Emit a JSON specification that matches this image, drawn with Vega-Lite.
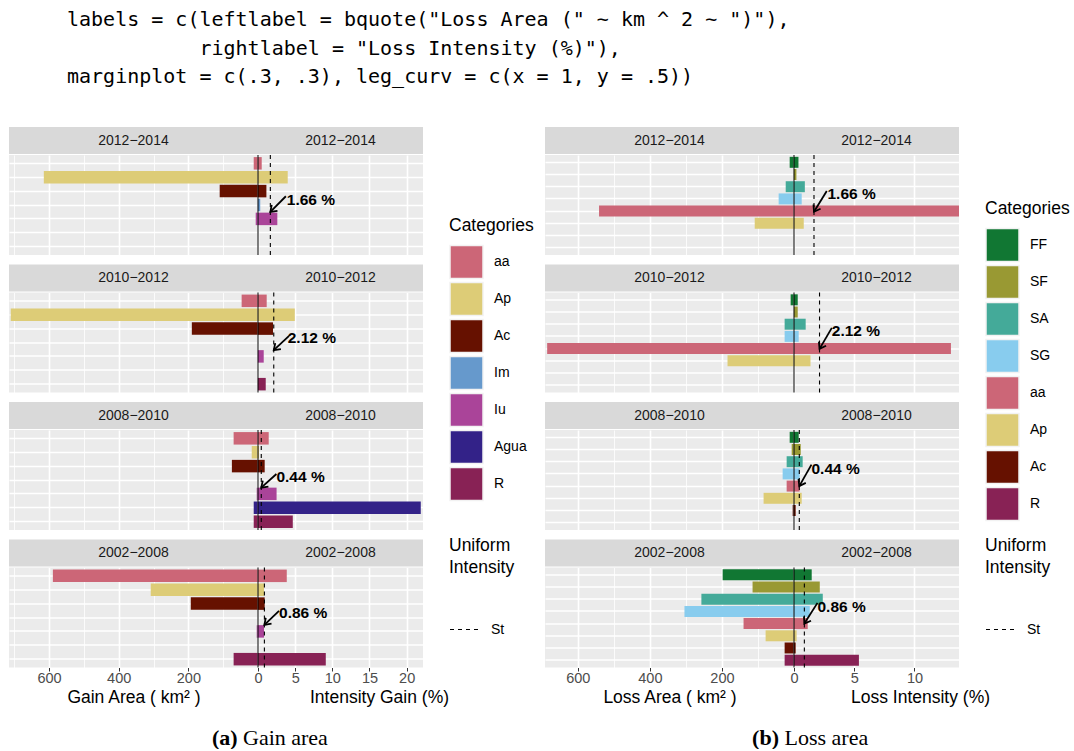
{
"$schema": "https://vega.github.io/schema/vega-lite/v6.json",
"padding": {"left": 9, "top": 10, "right": 0, "bottom": 0},
"title": {"text": ["labels = c(leftlabel = bquote(\"Loss Area (\" ~ km ^ 2 ~ \")\"),", "\u200b\u00a0\u00a0\u00a0\u00a0\u00a0\u00a0\u00a0\u00a0\u00a0\u00a0\u00a0rightlabel = \"Loss Intensity (%)\"),", "marginplot = c(.3, .3), leg_curv = c(x = 1, y = .5))"], "anchor": "start", "font": "DejaVu Sans Mono", "fontSize": 20, "fontWeight": "normal", "lineHeight": 28.5, "color": "black", "dx": 58, "offset": 40},
"spacing": 11,
"resolve": {"scale": {"color": "independent", "strokeDash": "independent"}, "legend": {"color": "independent", "strokeDash": "independent"}},
"datasets": {
"gain": [
{"period": "2012−2014", "category": "aa", "area": 12.3, "intensity": 0.5},
{"period": "2012−2014", "category": "Ap", "area": 615, "intensity": 4.0},
{"period": "2012−2014", "category": "Ac", "area": 110, "intensity": 1.13},
{"period": "2012−2014", "category": "Im", "area": 0.5, "intensity": 0.3},
{"period": "2012−2014", "category": "Iu", "area": 6.6, "intensity": 2.6},
{"period": "2010−2012", "category": "aa", "area": 47, "intensity": 1.17},
{"period": "2010−2012", "category": "Ap", "area": 710, "intensity": 4.95},
{"period": "2010−2012", "category": "Ac", "area": 190, "intensity": 2.02},
{"period": "2010−2012", "category": "Iu", "area": 0.5, "intensity": 0.77},
{"period": "2010−2012", "category": "R", "area": 0.5, "intensity": 1.04},
{"period": "2008−2010", "category": "aa", "area": 70, "intensity": 1.44},
{"period": "2008−2010", "category": "Ap", "area": 18, "intensity": 0.13},
{"period": "2008−2010", "category": "Ac", "area": 75, "intensity": 0.9},
{"period": "2008−2010", "category": "Iu", "area": 3.7, "intensity": 2.5},
{"period": "2008−2010", "category": "Agua", "area": 12.3, "intensity": 21.9},
{"period": "2008−2010", "category": "R", "area": 12.3, "intensity": 4.68},
{"period": "2002−2008", "category": "aa", "area": 589, "intensity": 3.87},
{"period": "2002−2008", "category": "Ap", "area": 308, "intensity": 0.81},
{"period": "2002−2008", "category": "Ac", "area": 193, "intensity": 0.9},
{"period": "2002−2008", "category": "Iu", "area": 3.7, "intensity": 0.81},
{"period": "2002−2008", "category": "R", "area": 70, "intensity": 9.12}
],
"loss": [
{"period": "2012−2014", "category": "FF", "area": 12, "intensity": 0.37},
{"period": "2012−2014", "category": "SF", "area": 0.5, "intensity": 0.2},
{"period": "2012−2014", "category": "SA", "area": 23, "intensity": 0.9},
{"period": "2012−2014", "category": "SG", "area": 42.6, "intensity": 0.64},
{"period": "2012−2014", "category": "aa", "area": 541, "intensity": 13.7},
{"period": "2012−2014", "category": "Ap", "area": 109, "intensity": 0.81},
{"period": "2010−2012", "category": "FF", "area": 9.3, "intensity": 0.31},
{"period": "2010−2012", "category": "SF", "area": 0.3, "intensity": 0.31},
{"period": "2010−2012", "category": "SA", "area": 26, "intensity": 0.97},
{"period": "2010−2012", "category": "SG", "area": 26, "intensity": 0.39},
{"period": "2010−2012", "category": "aa", "area": 685, "intensity": 13.03},
{"period": "2010−2012", "category": "Ap", "area": 184.5, "intensity": 1.37},
{"period": "2008−2010", "category": "FF", "area": 12, "intensity": 0.39},
{"period": "2008−2010", "category": "SF", "area": 6.4, "intensity": 0.56},
{"period": "2008−2010", "category": "SA", "area": 20.4, "intensity": 0.72},
{"period": "2008−2010", "category": "SG", "area": 31.5, "intensity": 0.47},
{"period": "2008−2010", "category": "aa", "area": 20.4, "intensity": 0.47},
{"period": "2008−2010", "category": "Ap", "area": 84.4, "intensity": 0.64},
{"period": "2008−2010", "category": "Ac", "area": 3.7, "intensity": 0.14},
{"period": "2002−2008", "category": "FF", "area": 198, "intensity": 1.47},
{"period": "2002−2008", "category": "SF", "area": 115, "intensity": 2.14},
{"period": "2002−2008", "category": "SA", "area": 257, "intensity": 2.39},
{"period": "2002−2008", "category": "SG", "area": 304, "intensity": 1.31},
{"period": "2002−2008", "category": "aa", "area": 140, "intensity": 1.14},
{"period": "2002−2008", "category": "Ap", "area": 78.8, "intensity": 0.22},
{"period": "2002−2008", "category": "Ac", "area": 26, "intensity": 0.14},
{"period": "2002−2008", "category": "R", "area": 26, "intensity": 5.39}
],
"gain_st": [
{"period": "2012−2014", "uniform": 1.66, "type": "St", "label": "1.66 %", "text_x": 3.87, "text_y": 3.66, "arrow_x": 3.75, "arrow_y": 3.37, "arrow_x2": 1.66, "arrow_y2": 4.5},
{"period": "2010−2012", "uniform": 2.12, "type": "St", "label": "2.12 %", "text_x": 4.0, "text_y": 3.68, "arrow_x": 4.18, "arrow_y": 3.52, "arrow_x2": 2.12, "arrow_y2": 4.55},
{"period": "2008−2010", "uniform": 0.44, "type": "St", "label": "0.44 %", "text_x": 2.48, "text_y": 3.76, "arrow_x": 2.48, "arrow_y": 3.57, "arrow_x2": 0.44, "arrow_y2": 4.55},
{"period": "2002−2008", "uniform": 0.86, "type": "St", "label": "0.86 %", "text_x": 2.83, "text_y": 3.68, "arrow_x": 2.83, "arrow_y": 3.52, "arrow_x2": 0.86, "arrow_y2": 4.53}
],
"loss_st": [
{"period": "2012−2014", "uniform": 1.66, "type": "St", "label": "1.66 %", "text_x": 2.78, "text_y": 3.6, "arrow_x": 2.72, "arrow_y": 3.35, "arrow_x2": 1.66, "arrow_y2": 5.05},
{"period": "2010−2012", "uniform": 2.12, "type": "St", "label": "2.12 %", "text_x": 3.14, "text_y": 3.57, "arrow_x": 3.14, "arrow_y": 3.3, "arrow_x2": 2.12, "arrow_y2": 5.02},
{"period": "2008−2010", "uniform": 0.44, "type": "St", "label": "0.44 %", "text_x": 1.45, "text_y": 3.57, "arrow_x": 1.45, "arrow_y": 3.24, "arrow_x2": 0.44, "arrow_y2": 5.0},
{"period": "2002−2008", "uniform": 0.86, "type": "St", "label": "0.86 %", "text_x": 1.95, "text_y": 3.62, "arrow_x": 1.95, "arrow_y": 3.3, "arrow_x2": 0.86, "arrow_y2": 5.0}
]
},
"hconcat": [
{"spacing": 4, "vconcat": [
 {"spacing": 8.5, "vconcat": [
  {"spacing": 0, "vconcat": [
   {"spacing": 0, "bounds": "flush", "hconcat": [
    {"width": 249, "height": 27, "view": {"fill": "#D9D9D9"}, "data": {"name": "gain_st"}, "transform": [{"filter": "datum.period === '2012−2014'"}], "mark": {"type": "text", "fontSize": 14, "color": "#1A1A1A"}, "encoding": {"text": {"field": "period"}}},
    {"width": 165, "height": 27, "view": {"fill": "#D9D9D9"}, "data": {"name": "gain_st"}, "transform": [{"filter": "datum.period === '2012−2014'"}], "mark": {"type": "text", "fontSize": 14, "color": "#1A1A1A"}, "encoding": {"text": {"field": "period"}}}
   ]},
   {"spacing": 0, "bounds": "flush", "hconcat": [
    {"width": 249, "height": 100, "data": {"name": "gain"}, "transform": [{"filter": "datum.period === '2012−2014'"}], "mark": {"type": "bar"},
     "encoding": {
      "x": {"field": "area", "type": "quantitative", "scale": {"domain": [0, 715], "reverse": true, "nice": false, "zero": false}, "axis": {"values": [0, 100, 200, 300, 400, 500, 600, 700], "labels": false, "ticks": false, "domain": false, "title": null, "gridWidth": {"condition": {"test": "datum.value % 200 === 0", "value": 1.6}, "value": 0.8}}},
      "y": {"field": "category", "type": "nominal", "scale": {"domain": ["aa", "Ap", "Ac", "Im", "Iu", "Agua", "R"], "paddingInner": 0.1, "paddingOuter": 0.15}, "axis": {"grid": true, "labels": false, "ticks": false, "domain": false, "title": null, "bandPosition": 0.5, "gridWidth": 1.6}},
      "color": {"field": "category", "type": "nominal", "scale": {"domain": ["aa", "Ap", "Ac", "Im", "Iu", "Agua", "R"], "range": ["#CC6677", "#DDCC77", "#661100", "#6699CC", "#AA4499", "#332288", "#882255"]}, "legend": {"title": "Categories", "orient": "none", "legendX": 440, "legendY": 90}}
     }},
    {"width": 165, "height": 100, "resolve": {"scale": {"y": "independent"}}, "layer": [
     {"data": {"name": "gain"}, "transform": [{"filter": "datum.period === '2012−2014'"}], "mark": {"type": "bar"},
      "encoding": {
       "x": {"field": "intensity", "type": "quantitative", "scale": {"domain": [0, 22.2], "nice": false, "zero": false}, "axis": {"values": [0, 2.5, 5, 7.5, 10, 12.5, 15, 17.5, 20], "labels": false, "ticks": false, "domain": false, "title": null, "gridWidth": {"condition": {"test": "datum.value % 5 === 0", "value": 1.6}, "value": 0.8}}},
       "y": {"field": "category", "type": "nominal", "scale": {"domain": ["aa", "Ap", "Ac", "Im", "Iu", "Agua", "R"], "paddingInner": 0.1, "paddingOuter": 0.15}, "axis": {"grid": true, "labels": false, "ticks": false, "domain": false, "title": null, "bandPosition": 0.5, "gridWidth": 1.6}},
       "color": {"field": "category", "type": "nominal", "scale": {"domain": ["aa", "Ap", "Ac", "Im", "Iu", "Agua", "R"], "range": ["#CC6677", "#DDCC77", "#661100", "#6699CC", "#AA4499", "#332288", "#882255"]}, "legend": {"title": "Categories", "orient": "none", "legendX": 440, "legendY": 90}}
      }},
     {"data": {"name": "gain_st"}, "transform": [{"filter": "datum.period === '2012−2014'"}], "mark": {"type": "rule", "color": "black", "strokeWidth": 1}, "encoding": {"x": {"datum": 0, "type": "quantitative", "scale": {"domain": [0, 22.2], "nice": false, "zero": false}}}},
     {"data": {"name": "gain_st"}, "transform": [{"filter": "datum.period === '2012−2014'"}], "mark": {"type": "rule", "color": "black", "strokeWidth": 1.1}, "encoding": {"x": {"field": "uniform", "type": "quantitative", "scale": {"domain": [0, 22.2], "nice": false, "zero": false}}, "strokeDash": {"field": "type", "type": "nominal", "scale": {"domain": ["St"], "range": [[4, 4]]}, "legend": {"title": ["Uniform", "Intensity"], "orient": "none", "legendX": 440, "legendY": 410, "symbolType": "stroke", "symbolSize": 900, "symbolStrokeColor": "black", "symbolStrokeWidth": 1.2, "titlePadding": 37}}}},
     {"data": {"name": "gain_st"}, "transform": [{"filter": "datum.period === '2012−2014'"}], "mark": {"type": "rule", "color": "black", "strokeWidth": 1.8}, "encoding": {"x": {"field": "arrow_x", "type": "quantitative", "scale": {"domain": [0, 22.2], "nice": false, "zero": false}}, "x2": {"field": "arrow_x2"}, "y": {"field": "arrow_y", "type": "quantitative", "scale": {"domain": [0.4, 7.6], "reverse": true, "nice": false, "zero": false}, "axis": null}, "y2": {"field": "arrow_y2"}}},
     {"data": {"name": "gain_st"}, "transform": [{"filter": "datum.period === '2012−2014'"}], "mark": {"type": "point", "shape": "M-1,-0.7L0,0L-1,0.7", "filled": false, "color": "black", "strokeWidth": 1.8, "size": 140, "angle": 136, "opacity": 1}, "encoding": {"x": {"field": "arrow_x2", "type": "quantitative", "scale": {"domain": [0, 22.2], "nice": false, "zero": false}}, "y": {"field": "arrow_y2", "type": "quantitative", "scale": {"domain": [0.4, 7.6], "reverse": true, "nice": false, "zero": false}, "axis": null}}},
     {"data": {"name": "gain_st"}, "transform": [{"filter": "datum.period === '2012−2014'"}], "mark": {"type": "text", "align": "left", "baseline": "middle", "fontWeight": "bold", "fontSize": 15.5, "color": "black"}, "encoding": {"x": {"field": "text_x", "type": "quantitative", "scale": {"domain": [0, 22.2], "nice": false, "zero": false}}, "y": {"field": "text_y", "type": "quantitative", "scale": {"domain": [0.4, 7.6], "reverse": true, "nice": false, "zero": false}, "axis": null}, "text": {"field": "label"}}}
    ]}
   ]}
  ]},
  {"spacing": 0, "vconcat": [
   {"spacing": 0, "bounds": "flush", "hconcat": [
    {"width": 249, "height": 27, "view": {"fill": "#D9D9D9"}, "data": {"name": "gain_st"}, "transform": [{"filter": "datum.period === '2010−2012'"}], "mark": {"type": "text", "fontSize": 14, "color": "#1A1A1A"}, "encoding": {"text": {"field": "period"}}},
    {"width": 165, "height": 27, "view": {"fill": "#D9D9D9"}, "data": {"name": "gain_st"}, "transform": [{"filter": "datum.period === '2010−2012'"}], "mark": {"type": "text", "fontSize": 14, "color": "#1A1A1A"}, "encoding": {"text": {"field": "period"}}}
   ]},
   {"spacing": 0, "bounds": "flush", "hconcat": [
    {"width": 249, "height": 100, "data": {"name": "gain"}, "transform": [{"filter": "datum.period === '2010−2012'"}], "mark": {"type": "bar"},
     "encoding": {
      "x": {"field": "area", "type": "quantitative", "scale": {"domain": [0, 715], "reverse": true, "nice": false, "zero": false}, "axis": {"values": [0, 100, 200, 300, 400, 500, 600, 700], "labels": false, "ticks": false, "domain": false, "title": null, "gridWidth": {"condition": {"test": "datum.value % 200 === 0", "value": 1.6}, "value": 0.8}}},
      "y": {"field": "category", "type": "nominal", "scale": {"domain": ["aa", "Ap", "Ac", "Im", "Iu", "Agua", "R"], "paddingInner": 0.1, "paddingOuter": 0.15}, "axis": {"grid": true, "labels": false, "ticks": false, "domain": false, "title": null, "bandPosition": 0.5, "gridWidth": 1.6}},
      "color": {"field": "category", "type": "nominal", "scale": {"domain": ["aa", "Ap", "Ac", "Im", "Iu", "Agua", "R"], "range": ["#CC6677", "#DDCC77", "#661100", "#6699CC", "#AA4499", "#332288", "#882255"]}, "legend": {"title": "Categories", "orient": "none", "legendX": 440, "legendY": 90}}
     }},
    {"width": 165, "height": 100, "resolve": {"scale": {"y": "independent"}}, "layer": [
     {"data": {"name": "gain"}, "transform": [{"filter": "datum.period === '2010−2012'"}], "mark": {"type": "bar"},
      "encoding": {
       "x": {"field": "intensity", "type": "quantitative", "scale": {"domain": [0, 22.2], "nice": false, "zero": false}, "axis": {"values": [0, 2.5, 5, 7.5, 10, 12.5, 15, 17.5, 20], "labels": false, "ticks": false, "domain": false, "title": null, "gridWidth": {"condition": {"test": "datum.value % 5 === 0", "value": 1.6}, "value": 0.8}}},
       "y": {"field": "category", "type": "nominal", "scale": {"domain": ["aa", "Ap", "Ac", "Im", "Iu", "Agua", "R"], "paddingInner": 0.1, "paddingOuter": 0.15}, "axis": {"grid": true, "labels": false, "ticks": false, "domain": false, "title": null, "bandPosition": 0.5, "gridWidth": 1.6}},
       "color": {"field": "category", "type": "nominal", "scale": {"domain": ["aa", "Ap", "Ac", "Im", "Iu", "Agua", "R"], "range": ["#CC6677", "#DDCC77", "#661100", "#6699CC", "#AA4499", "#332288", "#882255"]}, "legend": {"title": "Categories", "orient": "none", "legendX": 440, "legendY": 90}}
      }},
     {"data": {"name": "gain_st"}, "transform": [{"filter": "datum.period === '2010−2012'"}], "mark": {"type": "rule", "color": "black", "strokeWidth": 1}, "encoding": {"x": {"datum": 0, "type": "quantitative", "scale": {"domain": [0, 22.2], "nice": false, "zero": false}}}},
     {"data": {"name": "gain_st"}, "transform": [{"filter": "datum.period === '2010−2012'"}], "mark": {"type": "rule", "color": "black", "strokeWidth": 1.1}, "encoding": {"x": {"field": "uniform", "type": "quantitative", "scale": {"domain": [0, 22.2], "nice": false, "zero": false}}, "strokeDash": {"field": "type", "type": "nominal", "scale": {"domain": ["St"], "range": [[4, 4]]}, "legend": {"title": ["Uniform", "Intensity"], "orient": "none", "legendX": 440, "legendY": 410, "symbolType": "stroke", "symbolSize": 900, "symbolStrokeColor": "black", "symbolStrokeWidth": 1.2, "titlePadding": 37}}}},
     {"data": {"name": "gain_st"}, "transform": [{"filter": "datum.period === '2010−2012'"}], "mark": {"type": "rule", "color": "black", "strokeWidth": 1.8}, "encoding": {"x": {"field": "arrow_x", "type": "quantitative", "scale": {"domain": [0, 22.2], "nice": false, "zero": false}}, "x2": {"field": "arrow_x2"}, "y": {"field": "arrow_y", "type": "quantitative", "scale": {"domain": [0.4, 7.6], "reverse": true, "nice": false, "zero": false}, "axis": null}, "y2": {"field": "arrow_y2"}}},
     {"data": {"name": "gain_st"}, "transform": [{"filter": "datum.period === '2010−2012'"}], "mark": {"type": "point", "shape": "M-1,-0.7L0,0L-1,0.7", "filled": false, "color": "black", "strokeWidth": 1.8, "size": 140, "angle": 137, "opacity": 1}, "encoding": {"x": {"field": "arrow_x2", "type": "quantitative", "scale": {"domain": [0, 22.2], "nice": false, "zero": false}}, "y": {"field": "arrow_y2", "type": "quantitative", "scale": {"domain": [0.4, 7.6], "reverse": true, "nice": false, "zero": false}, "axis": null}}},
     {"data": {"name": "gain_st"}, "transform": [{"filter": "datum.period === '2010−2012'"}], "mark": {"type": "text", "align": "left", "baseline": "middle", "fontWeight": "bold", "fontSize": 15.5, "color": "black"}, "encoding": {"x": {"field": "text_x", "type": "quantitative", "scale": {"domain": [0, 22.2], "nice": false, "zero": false}}, "y": {"field": "text_y", "type": "quantitative", "scale": {"domain": [0.4, 7.6], "reverse": true, "nice": false, "zero": false}, "axis": null}, "text": {"field": "label"}}}
    ]}
   ]}
  ]},
  {"spacing": 0, "vconcat": [
   {"spacing": 0, "bounds": "flush", "hconcat": [
    {"width": 249, "height": 27, "view": {"fill": "#D9D9D9"}, "data": {"name": "gain_st"}, "transform": [{"filter": "datum.period === '2008−2010'"}], "mark": {"type": "text", "fontSize": 14, "color": "#1A1A1A"}, "encoding": {"text": {"field": "period"}}},
    {"width": 165, "height": 27, "view": {"fill": "#D9D9D9"}, "data": {"name": "gain_st"}, "transform": [{"filter": "datum.period === '2008−2010'"}], "mark": {"type": "text", "fontSize": 14, "color": "#1A1A1A"}, "encoding": {"text": {"field": "period"}}}
   ]},
   {"spacing": 0, "bounds": "flush", "hconcat": [
    {"width": 249, "height": 100, "data": {"name": "gain"}, "transform": [{"filter": "datum.period === '2008−2010'"}], "mark": {"type": "bar"},
     "encoding": {
      "x": {"field": "area", "type": "quantitative", "scale": {"domain": [0, 715], "reverse": true, "nice": false, "zero": false}, "axis": {"values": [0, 100, 200, 300, 400, 500, 600, 700], "labels": false, "ticks": false, "domain": false, "title": null, "gridWidth": {"condition": {"test": "datum.value % 200 === 0", "value": 1.6}, "value": 0.8}}},
      "y": {"field": "category", "type": "nominal", "scale": {"domain": ["aa", "Ap", "Ac", "Im", "Iu", "Agua", "R"], "paddingInner": 0.1, "paddingOuter": 0.15}, "axis": {"grid": true, "labels": false, "ticks": false, "domain": false, "title": null, "bandPosition": 0.5, "gridWidth": 1.6}},
      "color": {"field": "category", "type": "nominal", "scale": {"domain": ["aa", "Ap", "Ac", "Im", "Iu", "Agua", "R"], "range": ["#CC6677", "#DDCC77", "#661100", "#6699CC", "#AA4499", "#332288", "#882255"]}, "legend": {"title": "Categories", "orient": "none", "legendX": 440, "legendY": 90}}
     }},
    {"width": 165, "height": 100, "resolve": {"scale": {"y": "independent"}}, "layer": [
     {"data": {"name": "gain"}, "transform": [{"filter": "datum.period === '2008−2010'"}], "mark": {"type": "bar"},
      "encoding": {
       "x": {"field": "intensity", "type": "quantitative", "scale": {"domain": [0, 22.2], "nice": false, "zero": false}, "axis": {"values": [0, 2.5, 5, 7.5, 10, 12.5, 15, 17.5, 20], "labels": false, "ticks": false, "domain": false, "title": null, "gridWidth": {"condition": {"test": "datum.value % 5 === 0", "value": 1.6}, "value": 0.8}}},
       "y": {"field": "category", "type": "nominal", "scale": {"domain": ["aa", "Ap", "Ac", "Im", "Iu", "Agua", "R"], "paddingInner": 0.1, "paddingOuter": 0.15}, "axis": {"grid": true, "labels": false, "ticks": false, "domain": false, "title": null, "bandPosition": 0.5, "gridWidth": 1.6}},
       "color": {"field": "category", "type": "nominal", "scale": {"domain": ["aa", "Ap", "Ac", "Im", "Iu", "Agua", "R"], "range": ["#CC6677", "#DDCC77", "#661100", "#6699CC", "#AA4499", "#332288", "#882255"]}, "legend": {"title": "Categories", "orient": "none", "legendX": 440, "legendY": 90}}
      }},
     {"data": {"name": "gain_st"}, "transform": [{"filter": "datum.period === '2008−2010'"}], "mark": {"type": "rule", "color": "black", "strokeWidth": 1}, "encoding": {"x": {"datum": 0, "type": "quantitative", "scale": {"domain": [0, 22.2], "nice": false, "zero": false}}}},
     {"data": {"name": "gain_st"}, "transform": [{"filter": "datum.period === '2008−2010'"}], "mark": {"type": "rule", "color": "black", "strokeWidth": 1.1}, "encoding": {"x": {"field": "uniform", "type": "quantitative", "scale": {"domain": [0, 22.2], "nice": false, "zero": false}}, "strokeDash": {"field": "type", "type": "nominal", "scale": {"domain": ["St"], "range": [[4, 4]]}, "legend": {"title": ["Uniform", "Intensity"], "orient": "none", "legendX": 440, "legendY": 410, "symbolType": "stroke", "symbolSize": 900, "symbolStrokeColor": "black", "symbolStrokeWidth": 1.2, "titlePadding": 37}}}},
     {"data": {"name": "gain_st"}, "transform": [{"filter": "datum.period === '2008−2010'"}], "mark": {"type": "rule", "color": "black", "strokeWidth": 1.8}, "encoding": {"x": {"field": "arrow_x", "type": "quantitative", "scale": {"domain": [0, 22.2], "nice": false, "zero": false}}, "x2": {"field": "arrow_x2"}, "y": {"field": "arrow_y", "type": "quantitative", "scale": {"domain": [0.4, 7.6], "reverse": true, "nice": false, "zero": false}, "axis": null}, "y2": {"field": "arrow_y2"}}},
     {"data": {"name": "gain_st"}, "transform": [{"filter": "datum.period === '2008−2010'"}], "mark": {"type": "point", "shape": "M-1,-0.7L0,0L-1,0.7", "filled": false, "color": "black", "strokeWidth": 1.8, "size": 140, "angle": 137, "opacity": 1}, "encoding": {"x": {"field": "arrow_x2", "type": "quantitative", "scale": {"domain": [0, 22.2], "nice": false, "zero": false}}, "y": {"field": "arrow_y2", "type": "quantitative", "scale": {"domain": [0.4, 7.6], "reverse": true, "nice": false, "zero": false}, "axis": null}}},
     {"data": {"name": "gain_st"}, "transform": [{"filter": "datum.period === '2008−2010'"}], "mark": {"type": "text", "align": "left", "baseline": "middle", "fontWeight": "bold", "fontSize": 15.5, "color": "black"}, "encoding": {"x": {"field": "text_x", "type": "quantitative", "scale": {"domain": [0, 22.2], "nice": false, "zero": false}}, "y": {"field": "text_y", "type": "quantitative", "scale": {"domain": [0.4, 7.6], "reverse": true, "nice": false, "zero": false}, "axis": null}, "text": {"field": "label"}}}
    ]}
   ]}
  ]},
  {"spacing": 0, "vconcat": [
   {"spacing": 0, "bounds": "flush", "hconcat": [
    {"width": 249, "height": 27, "view": {"fill": "#D9D9D9"}, "data": {"name": "gain_st"}, "transform": [{"filter": "datum.period === '2002−2008'"}], "mark": {"type": "text", "fontSize": 14, "color": "#1A1A1A"}, "encoding": {"text": {"field": "period"}}},
    {"width": 165, "height": 27, "view": {"fill": "#D9D9D9"}, "data": {"name": "gain_st"}, "transform": [{"filter": "datum.period === '2002−2008'"}], "mark": {"type": "text", "fontSize": 14, "color": "#1A1A1A"}, "encoding": {"text": {"field": "period"}}}
   ]},
   {"spacing": 0, "bounds": "flush", "hconcat": [
    {"width": 249, "height": 100, "data": {"name": "gain"}, "transform": [{"filter": "datum.period === '2002−2008'"}], "mark": {"type": "bar"},
     "encoding": {
      "x": {"field": "area", "type": "quantitative", "scale": {"domain": [0, 715], "reverse": true, "nice": false, "zero": false}, "axis": {"values": [0, 100, 200, 300, 400, 500, 600, 700], "format": "d", "labelExpr": "datum.value % 200 === 0 ? datum.label : ''", "labelFlush": false, "labelOverlap": false, "labelPadding": 0, "tickColor": {"condition": {"test": "datum.value % 200 === 0", "value": "#333333"}, "value": "transparent"}, "domain": false, "title": "Gain Area ( km² )", "gridWidth": {"condition": {"test": "datum.value % 200 === 0", "value": 1.6}, "value": 0.8}}},
      "y": {"field": "category", "type": "nominal", "scale": {"domain": ["aa", "Ap", "Ac", "Im", "Iu", "Agua", "R"], "paddingInner": 0.1, "paddingOuter": 0.15}, "axis": {"grid": true, "labels": false, "ticks": false, "domain": false, "title": null, "bandPosition": 0.5, "gridWidth": 1.6}},
      "color": {"field": "category", "type": "nominal", "scale": {"domain": ["aa", "Ap", "Ac", "Im", "Iu", "Agua", "R"], "range": ["#CC6677", "#DDCC77", "#661100", "#6699CC", "#AA4499", "#332288", "#882255"]}, "legend": {"title": "Categories", "orient": "none", "legendX": 440, "legendY": 90}}
     }},
    {"width": 165, "height": 100, "resolve": {"scale": {"y": "independent"}}, "layer": [
     {"data": {"name": "gain"}, "transform": [{"filter": "datum.period === '2002−2008'"}], "mark": {"type": "bar"},
      "encoding": {
       "x": {"field": "intensity", "type": "quantitative", "scale": {"domain": [0, 22.2], "nice": false, "zero": false}, "axis": {"values": [0, 2.5, 5, 7.5, 10, 12.5, 15, 17.5, 20], "format": "d", "labelExpr": "datum.value % 5 === 0 && datum.value > 0 ? datum.label : ''", "labelFlush": false, "labelOverlap": false, "labelPadding": 0, "tickColor": {"condition": {"test": "datum.value % 5 === 0 && datum.value > 0", "value": "#333333"}, "value": "transparent"}, "domain": false, "title": "Intensity Gain (%)", "titleX": 121, "gridWidth": {"condition": {"test": "datum.value % 5 === 0", "value": 1.6}, "value": 0.8}}},
       "y": {"field": "category", "type": "nominal", "scale": {"domain": ["aa", "Ap", "Ac", "Im", "Iu", "Agua", "R"], "paddingInner": 0.1, "paddingOuter": 0.15}, "axis": {"grid": true, "labels": false, "ticks": false, "domain": false, "title": null, "bandPosition": 0.5, "gridWidth": 1.6}},
       "color": {"field": "category", "type": "nominal", "scale": {"domain": ["aa", "Ap", "Ac", "Im", "Iu", "Agua", "R"], "range": ["#CC6677", "#DDCC77", "#661100", "#6699CC", "#AA4499", "#332288", "#882255"]}, "legend": {"title": "Categories", "orient": "none", "legendX": 440, "legendY": 90}}
      }},
     {"data": {"name": "gain_st"}, "transform": [{"filter": "datum.period === '2002−2008'"}], "mark": {"type": "rule", "color": "black", "strokeWidth": 1}, "encoding": {"x": {"datum": 0, "type": "quantitative", "scale": {"domain": [0, 22.2], "nice": false, "zero": false}}}},
     {"data": {"name": "gain_st"}, "transform": [{"filter": "datum.period === '2002−2008'"}], "mark": {"type": "rule", "color": "black", "strokeWidth": 1.1}, "encoding": {"x": {"field": "uniform", "type": "quantitative", "scale": {"domain": [0, 22.2], "nice": false, "zero": false}}, "strokeDash": {"field": "type", "type": "nominal", "scale": {"domain": ["St"], "range": [[4, 4]]}, "legend": {"title": ["Uniform", "Intensity"], "orient": "none", "legendX": 440, "legendY": 410, "symbolType": "stroke", "symbolSize": 900, "symbolStrokeColor": "black", "symbolStrokeWidth": 1.2, "titlePadding": 37}}}},
     {"data": {"name": "gain_st"}, "transform": [{"filter": "datum.period === '2002−2008'"}], "mark": {"type": "rule", "color": "black", "strokeWidth": 1.8}, "encoding": {"x": {"field": "arrow_x", "type": "quantitative", "scale": {"domain": [0, 22.2], "nice": false, "zero": false}}, "x2": {"field": "arrow_x2"}, "y": {"field": "arrow_y", "type": "quantitative", "scale": {"domain": [0.4, 7.6], "reverse": true, "nice": false, "zero": false}, "axis": null}, "y2": {"field": "arrow_y2"}}},
     {"data": {"name": "gain_st"}, "transform": [{"filter": "datum.period === '2002−2008'"}], "mark": {"type": "point", "shape": "M-1,-0.7L0,0L-1,0.7", "filled": false, "color": "black", "strokeWidth": 1.8, "size": 140, "angle": 136, "opacity": 1}, "encoding": {"x": {"field": "arrow_x2", "type": "quantitative", "scale": {"domain": [0, 22.2], "nice": false, "zero": false}}, "y": {"field": "arrow_y2", "type": "quantitative", "scale": {"domain": [0.4, 7.6], "reverse": true, "nice": false, "zero": false}, "axis": null}}},
     {"data": {"name": "gain_st"}, "transform": [{"filter": "datum.period === '2002−2008'"}], "mark": {"type": "text", "align": "left", "baseline": "middle", "fontWeight": "bold", "fontSize": 15.5, "color": "black"}, "encoding": {"x": {"field": "text_x", "type": "quantitative", "scale": {"domain": [0, 22.2], "nice": false, "zero": false}}, "y": {"field": "text_y", "type": "quantitative", "scale": {"domain": [0.4, 7.6], "reverse": true, "nice": false, "zero": false}, "axis": null}, "text": {"field": "label"}}}
    ]}
   ]}
  ]}
 ]},
 {"width": 414, "height": 36, "view": {"fill": "white"}, "data": {"values": [{"letter": "(a)", "caption": "Gain area"}]}, "layer": [
  {"mark": {"type": "text", "align": "right", "dx": 21.7, "dy": 10, "font": "Liberation Serif", "fontSize": 22, "fontWeight": "bold", "color": "black"}, "encoding": {"text": {"field": "letter"}}},
  {"mark": {"type": "text", "align": "left", "dx": 27, "dy": 10, "font": "Liberation Serif", "fontSize": 22, "color": "black"}, "encoding": {"text": {"field": "caption"}}}
 ]}
]},
{"spacing": 4, "vconcat": [
 {"spacing": 8.5, "vconcat": [
  {"spacing": 0, "vconcat": [
   {"spacing": 0, "bounds": "flush", "hconcat": [
    {"width": 249, "height": 27, "view": {"fill": "#D9D9D9"}, "data": {"name": "loss_st"}, "transform": [{"filter": "datum.period === '2012−2014'"}], "mark": {"type": "text", "fontSize": 14, "color": "#1A1A1A"}, "encoding": {"text": {"field": "period"}}},
    {"width": 165, "height": 27, "view": {"fill": "#D9D9D9"}, "data": {"name": "loss_st"}, "transform": [{"filter": "datum.period === '2012−2014'"}], "mark": {"type": "text", "fontSize": 14, "color": "#1A1A1A"}, "encoding": {"text": {"field": "period"}}}
   ]},
   {"spacing": 0, "bounds": "flush", "hconcat": [
    {"width": 249, "height": 100, "data": {"name": "loss"}, "transform": [{"filter": "datum.period === '2012−2014'"}], "mark": {"type": "bar"},
     "encoding": {
      "x": {"field": "area", "type": "quantitative", "scale": {"domain": [0, 691], "reverse": true, "nice": false, "zero": false}, "axis": {"values": [0, 100, 200, 300, 400, 500, 600], "labels": false, "ticks": false, "domain": false, "title": null, "gridWidth": {"condition": {"test": "datum.value % 200 === 0", "value": 1.6}, "value": 0.8}}},
      "y": {"field": "category", "type": "nominal", "scale": {"domain": ["FF", "SF", "SA", "SG", "aa", "Ap", "Ac", "R"], "paddingInner": 0.1, "paddingOuter": 0.15}, "axis": {"grid": true, "labels": false, "ticks": false, "domain": false, "title": null, "bandPosition": 0.5, "gridWidth": 1.6}},
      "color": {"field": "category", "type": "nominal", "scale": {"domain": ["FF", "SF", "SA", "SG", "aa", "Ap", "Ac", "R"], "range": ["#117733", "#999933", "#44AA99", "#88CCEE", "#CC6677", "#DDCC77", "#661100", "#882255"]}, "legend": {"title": "Categories", "orient": "none", "legendX": 440, "legendY": 73}}
     }},
    {"width": 165, "height": 100, "resolve": {"scale": {"y": "independent"}}, "layer": [
     {"data": {"name": "loss"}, "transform": [{"filter": "datum.period === '2012−2014'"}], "mark": {"type": "bar"},
      "encoding": {
       "x": {"field": "intensity", "type": "quantitative", "scale": {"domain": [0, 13.7], "nice": false, "zero": false}, "axis": {"values": [0, 2.5, 5, 7.5, 10, 12.5], "labels": false, "ticks": false, "domain": false, "title": null, "gridWidth": {"condition": {"test": "datum.value % 5 === 0", "value": 1.6}, "value": 0.8}}},
       "y": {"field": "category", "type": "nominal", "scale": {"domain": ["FF", "SF", "SA", "SG", "aa", "Ap", "Ac", "R"], "paddingInner": 0.1, "paddingOuter": 0.15}, "axis": {"grid": true, "labels": false, "ticks": false, "domain": false, "title": null, "bandPosition": 0.5, "gridWidth": 1.6}},
       "color": {"field": "category", "type": "nominal", "scale": {"domain": ["FF", "SF", "SA", "SG", "aa", "Ap", "Ac", "R"], "range": ["#117733", "#999933", "#44AA99", "#88CCEE", "#CC6677", "#DDCC77", "#661100", "#882255"]}, "legend": {"title": "Categories", "orient": "none", "legendX": 440, "legendY": 73}}
      }},
     {"data": {"name": "loss_st"}, "transform": [{"filter": "datum.period === '2012−2014'"}], "mark": {"type": "rule", "color": "black", "strokeWidth": 1}, "encoding": {"x": {"datum": 0, "type": "quantitative", "scale": {"domain": [0, 13.7], "nice": false, "zero": false}}}},
     {"data": {"name": "loss_st"}, "transform": [{"filter": "datum.period === '2012−2014'"}], "mark": {"type": "rule", "color": "black", "strokeWidth": 1.1}, "encoding": {"x": {"field": "uniform", "type": "quantitative", "scale": {"domain": [0, 13.7], "nice": false, "zero": false}}, "strokeDash": {"field": "type", "type": "nominal", "scale": {"domain": ["St"], "range": [[4, 4]]}, "legend": {"title": ["Uniform", "Intensity"], "orient": "none", "legendX": 440, "legendY": 410, "symbolType": "stroke", "symbolSize": 900, "symbolStrokeColor": "black", "symbolStrokeWidth": 1.2, "titlePadding": 37}}}},
     {"data": {"name": "loss_st"}, "transform": [{"filter": "datum.period === '2012−2014'"}], "mark": {"type": "rule", "color": "black", "strokeWidth": 1.8}, "encoding": {"x": {"field": "arrow_x", "type": "quantitative", "scale": {"domain": [0, 13.7], "nice": false, "zero": false}}, "x2": {"field": "arrow_x2"}, "y": {"field": "arrow_y", "type": "quantitative", "scale": {"domain": [0.4, 8.6], "reverse": true, "nice": false, "zero": false}, "axis": null}, "y2": {"field": "arrow_y2"}}},
     {"data": {"name": "loss_st"}, "transform": [{"filter": "datum.period === '2012−2014'"}], "mark": {"type": "point", "shape": "M-1,-0.7L0,0L-1,0.7", "filled": false, "color": "black", "strokeWidth": 1.8, "size": 140, "angle": 121, "opacity": 1}, "encoding": {"x": {"field": "arrow_x2", "type": "quantitative", "scale": {"domain": [0, 13.7], "nice": false, "zero": false}}, "y": {"field": "arrow_y2", "type": "quantitative", "scale": {"domain": [0.4, 8.6], "reverse": true, "nice": false, "zero": false}, "axis": null}}},
     {"data": {"name": "loss_st"}, "transform": [{"filter": "datum.period === '2012−2014'"}], "mark": {"type": "text", "align": "left", "baseline": "middle", "fontWeight": "bold", "fontSize": 15.5, "color": "black"}, "encoding": {"x": {"field": "text_x", "type": "quantitative", "scale": {"domain": [0, 13.7], "nice": false, "zero": false}}, "y": {"field": "text_y", "type": "quantitative", "scale": {"domain": [0.4, 8.6], "reverse": true, "nice": false, "zero": false}, "axis": null}, "text": {"field": "label"}}}
    ]}
   ]}
  ]},
  {"spacing": 0, "vconcat": [
   {"spacing": 0, "bounds": "flush", "hconcat": [
    {"width": 249, "height": 27, "view": {"fill": "#D9D9D9"}, "data": {"name": "loss_st"}, "transform": [{"filter": "datum.period === '2010−2012'"}], "mark": {"type": "text", "fontSize": 14, "color": "#1A1A1A"}, "encoding": {"text": {"field": "period"}}},
    {"width": 165, "height": 27, "view": {"fill": "#D9D9D9"}, "data": {"name": "loss_st"}, "transform": [{"filter": "datum.period === '2010−2012'"}], "mark": {"type": "text", "fontSize": 14, "color": "#1A1A1A"}, "encoding": {"text": {"field": "period"}}}
   ]},
   {"spacing": 0, "bounds": "flush", "hconcat": [
    {"width": 249, "height": 100, "data": {"name": "loss"}, "transform": [{"filter": "datum.period === '2010−2012'"}], "mark": {"type": "bar"},
     "encoding": {
      "x": {"field": "area", "type": "quantitative", "scale": {"domain": [0, 691], "reverse": true, "nice": false, "zero": false}, "axis": {"values": [0, 100, 200, 300, 400, 500, 600], "labels": false, "ticks": false, "domain": false, "title": null, "gridWidth": {"condition": {"test": "datum.value % 200 === 0", "value": 1.6}, "value": 0.8}}},
      "y": {"field": "category", "type": "nominal", "scale": {"domain": ["FF", "SF", "SA", "SG", "aa", "Ap", "Ac", "R"], "paddingInner": 0.1, "paddingOuter": 0.15}, "axis": {"grid": true, "labels": false, "ticks": false, "domain": false, "title": null, "bandPosition": 0.5, "gridWidth": 1.6}},
      "color": {"field": "category", "type": "nominal", "scale": {"domain": ["FF", "SF", "SA", "SG", "aa", "Ap", "Ac", "R"], "range": ["#117733", "#999933", "#44AA99", "#88CCEE", "#CC6677", "#DDCC77", "#661100", "#882255"]}, "legend": {"title": "Categories", "orient": "none", "legendX": 440, "legendY": 73}}
     }},
    {"width": 165, "height": 100, "resolve": {"scale": {"y": "independent"}}, "layer": [
     {"data": {"name": "loss"}, "transform": [{"filter": "datum.period === '2010−2012'"}], "mark": {"type": "bar"},
      "encoding": {
       "x": {"field": "intensity", "type": "quantitative", "scale": {"domain": [0, 13.7], "nice": false, "zero": false}, "axis": {"values": [0, 2.5, 5, 7.5, 10, 12.5], "labels": false, "ticks": false, "domain": false, "title": null, "gridWidth": {"condition": {"test": "datum.value % 5 === 0", "value": 1.6}, "value": 0.8}}},
       "y": {"field": "category", "type": "nominal", "scale": {"domain": ["FF", "SF", "SA", "SG", "aa", "Ap", "Ac", "R"], "paddingInner": 0.1, "paddingOuter": 0.15}, "axis": {"grid": true, "labels": false, "ticks": false, "domain": false, "title": null, "bandPosition": 0.5, "gridWidth": 1.6}},
       "color": {"field": "category", "type": "nominal", "scale": {"domain": ["FF", "SF", "SA", "SG", "aa", "Ap", "Ac", "R"], "range": ["#117733", "#999933", "#44AA99", "#88CCEE", "#CC6677", "#DDCC77", "#661100", "#882255"]}, "legend": {"title": "Categories", "orient": "none", "legendX": 440, "legendY": 73}}
      }},
     {"data": {"name": "loss_st"}, "transform": [{"filter": "datum.period === '2010−2012'"}], "mark": {"type": "rule", "color": "black", "strokeWidth": 1}, "encoding": {"x": {"datum": 0, "type": "quantitative", "scale": {"domain": [0, 13.7], "nice": false, "zero": false}}}},
     {"data": {"name": "loss_st"}, "transform": [{"filter": "datum.period === '2010−2012'"}], "mark": {"type": "rule", "color": "black", "strokeWidth": 1.1}, "encoding": {"x": {"field": "uniform", "type": "quantitative", "scale": {"domain": [0, 13.7], "nice": false, "zero": false}}, "strokeDash": {"field": "type", "type": "nominal", "scale": {"domain": ["St"], "range": [[4, 4]]}, "legend": {"title": ["Uniform", "Intensity"], "orient": "none", "legendX": 440, "legendY": 410, "symbolType": "stroke", "symbolSize": 900, "symbolStrokeColor": "black", "symbolStrokeWidth": 1.2, "titlePadding": 37}}}},
     {"data": {"name": "loss_st"}, "transform": [{"filter": "datum.period === '2010−2012'"}], "mark": {"type": "rule", "color": "black", "strokeWidth": 1.8}, "encoding": {"x": {"field": "arrow_x", "type": "quantitative", "scale": {"domain": [0, 13.7], "nice": false, "zero": false}}, "x2": {"field": "arrow_x2"}, "y": {"field": "arrow_y", "type": "quantitative", "scale": {"domain": [0.4, 8.6], "reverse": true, "nice": false, "zero": false}, "axis": null}, "y2": {"field": "arrow_y2"}}},
     {"data": {"name": "loss_st"}, "transform": [{"filter": "datum.period === '2010−2012'"}], "mark": {"type": "point", "shape": "M-1,-0.7L0,0L-1,0.7", "filled": false, "color": "black", "strokeWidth": 1.8, "size": 140, "angle": 120, "opacity": 1}, "encoding": {"x": {"field": "arrow_x2", "type": "quantitative", "scale": {"domain": [0, 13.7], "nice": false, "zero": false}}, "y": {"field": "arrow_y2", "type": "quantitative", "scale": {"domain": [0.4, 8.6], "reverse": true, "nice": false, "zero": false}, "axis": null}}},
     {"data": {"name": "loss_st"}, "transform": [{"filter": "datum.period === '2010−2012'"}], "mark": {"type": "text", "align": "left", "baseline": "middle", "fontWeight": "bold", "fontSize": 15.5, "color": "black"}, "encoding": {"x": {"field": "text_x", "type": "quantitative", "scale": {"domain": [0, 13.7], "nice": false, "zero": false}}, "y": {"field": "text_y", "type": "quantitative", "scale": {"domain": [0.4, 8.6], "reverse": true, "nice": false, "zero": false}, "axis": null}, "text": {"field": "label"}}}
    ]}
   ]}
  ]},
  {"spacing": 0, "vconcat": [
   {"spacing": 0, "bounds": "flush", "hconcat": [
    {"width": 249, "height": 27, "view": {"fill": "#D9D9D9"}, "data": {"name": "loss_st"}, "transform": [{"filter": "datum.period === '2008−2010'"}], "mark": {"type": "text", "fontSize": 14, "color": "#1A1A1A"}, "encoding": {"text": {"field": "period"}}},
    {"width": 165, "height": 27, "view": {"fill": "#D9D9D9"}, "data": {"name": "loss_st"}, "transform": [{"filter": "datum.period === '2008−2010'"}], "mark": {"type": "text", "fontSize": 14, "color": "#1A1A1A"}, "encoding": {"text": {"field": "period"}}}
   ]},
   {"spacing": 0, "bounds": "flush", "hconcat": [
    {"width": 249, "height": 100, "data": {"name": "loss"}, "transform": [{"filter": "datum.period === '2008−2010'"}], "mark": {"type": "bar"},
     "encoding": {
      "x": {"field": "area", "type": "quantitative", "scale": {"domain": [0, 691], "reverse": true, "nice": false, "zero": false}, "axis": {"values": [0, 100, 200, 300, 400, 500, 600], "labels": false, "ticks": false, "domain": false, "title": null, "gridWidth": {"condition": {"test": "datum.value % 200 === 0", "value": 1.6}, "value": 0.8}}},
      "y": {"field": "category", "type": "nominal", "scale": {"domain": ["FF", "SF", "SA", "SG", "aa", "Ap", "Ac", "R"], "paddingInner": 0.1, "paddingOuter": 0.15}, "axis": {"grid": true, "labels": false, "ticks": false, "domain": false, "title": null, "bandPosition": 0.5, "gridWidth": 1.6}},
      "color": {"field": "category", "type": "nominal", "scale": {"domain": ["FF", "SF", "SA", "SG", "aa", "Ap", "Ac", "R"], "range": ["#117733", "#999933", "#44AA99", "#88CCEE", "#CC6677", "#DDCC77", "#661100", "#882255"]}, "legend": {"title": "Categories", "orient": "none", "legendX": 440, "legendY": 73}}
     }},
    {"width": 165, "height": 100, "resolve": {"scale": {"y": "independent"}}, "layer": [
     {"data": {"name": "loss"}, "transform": [{"filter": "datum.period === '2008−2010'"}], "mark": {"type": "bar"},
      "encoding": {
       "x": {"field": "intensity", "type": "quantitative", "scale": {"domain": [0, 13.7], "nice": false, "zero": false}, "axis": {"values": [0, 2.5, 5, 7.5, 10, 12.5], "labels": false, "ticks": false, "domain": false, "title": null, "gridWidth": {"condition": {"test": "datum.value % 5 === 0", "value": 1.6}, "value": 0.8}}},
       "y": {"field": "category", "type": "nominal", "scale": {"domain": ["FF", "SF", "SA", "SG", "aa", "Ap", "Ac", "R"], "paddingInner": 0.1, "paddingOuter": 0.15}, "axis": {"grid": true, "labels": false, "ticks": false, "domain": false, "title": null, "bandPosition": 0.5, "gridWidth": 1.6}},
       "color": {"field": "category", "type": "nominal", "scale": {"domain": ["FF", "SF", "SA", "SG", "aa", "Ap", "Ac", "R"], "range": ["#117733", "#999933", "#44AA99", "#88CCEE", "#CC6677", "#DDCC77", "#661100", "#882255"]}, "legend": {"title": "Categories", "orient": "none", "legendX": 440, "legendY": 73}}
      }},
     {"data": {"name": "loss_st"}, "transform": [{"filter": "datum.period === '2008−2010'"}], "mark": {"type": "rule", "color": "black", "strokeWidth": 1}, "encoding": {"x": {"datum": 0, "type": "quantitative", "scale": {"domain": [0, 13.7], "nice": false, "zero": false}}}},
     {"data": {"name": "loss_st"}, "transform": [{"filter": "datum.period === '2008−2010'"}], "mark": {"type": "rule", "color": "black", "strokeWidth": 1.1}, "encoding": {"x": {"field": "uniform", "type": "quantitative", "scale": {"domain": [0, 13.7], "nice": false, "zero": false}}, "strokeDash": {"field": "type", "type": "nominal", "scale": {"domain": ["St"], "range": [[4, 4]]}, "legend": {"title": ["Uniform", "Intensity"], "orient": "none", "legendX": 440, "legendY": 410, "symbolType": "stroke", "symbolSize": 900, "symbolStrokeColor": "black", "symbolStrokeWidth": 1.2, "titlePadding": 37}}}},
     {"data": {"name": "loss_st"}, "transform": [{"filter": "datum.period === '2008−2010'"}], "mark": {"type": "rule", "color": "black", "strokeWidth": 1.8}, "encoding": {"x": {"field": "arrow_x", "type": "quantitative", "scale": {"domain": [0, 13.7], "nice": false, "zero": false}}, "x2": {"field": "arrow_x2"}, "y": {"field": "arrow_y", "type": "quantitative", "scale": {"domain": [0.4, 8.6], "reverse": true, "nice": false, "zero": false}, "axis": null}, "y2": {"field": "arrow_y2"}}},
     {"data": {"name": "loss_st"}, "transform": [{"filter": "datum.period === '2008−2010'"}], "mark": {"type": "point", "shape": "M-1,-0.7L0,0L-1,0.7", "filled": false, "color": "black", "strokeWidth": 1.8, "size": 140, "angle": 119, "opacity": 1}, "encoding": {"x": {"field": "arrow_x2", "type": "quantitative", "scale": {"domain": [0, 13.7], "nice": false, "zero": false}}, "y": {"field": "arrow_y2", "type": "quantitative", "scale": {"domain": [0.4, 8.6], "reverse": true, "nice": false, "zero": false}, "axis": null}}},
     {"data": {"name": "loss_st"}, "transform": [{"filter": "datum.period === '2008−2010'"}], "mark": {"type": "text", "align": "left", "baseline": "middle", "fontWeight": "bold", "fontSize": 15.5, "color": "black"}, "encoding": {"x": {"field": "text_x", "type": "quantitative", "scale": {"domain": [0, 13.7], "nice": false, "zero": false}}, "y": {"field": "text_y", "type": "quantitative", "scale": {"domain": [0.4, 8.6], "reverse": true, "nice": false, "zero": false}, "axis": null}, "text": {"field": "label"}}}
    ]}
   ]}
  ]},
  {"spacing": 0, "vconcat": [
   {"spacing": 0, "bounds": "flush", "hconcat": [
    {"width": 249, "height": 27, "view": {"fill": "#D9D9D9"}, "data": {"name": "loss_st"}, "transform": [{"filter": "datum.period === '2002−2008'"}], "mark": {"type": "text", "fontSize": 14, "color": "#1A1A1A"}, "encoding": {"text": {"field": "period"}}},
    {"width": 165, "height": 27, "view": {"fill": "#D9D9D9"}, "data": {"name": "loss_st"}, "transform": [{"filter": "datum.period === '2002−2008'"}], "mark": {"type": "text", "fontSize": 14, "color": "#1A1A1A"}, "encoding": {"text": {"field": "period"}}}
   ]},
   {"spacing": 0, "bounds": "flush", "hconcat": [
    {"width": 249, "height": 100, "data": {"name": "loss"}, "transform": [{"filter": "datum.period === '2002−2008'"}], "mark": {"type": "bar"},
     "encoding": {
      "x": {"field": "area", "type": "quantitative", "scale": {"domain": [0, 691], "reverse": true, "nice": false, "zero": false}, "axis": {"values": [0, 100, 200, 300, 400, 500, 600], "format": "d", "labelExpr": "datum.value % 200 === 0 ? datum.label : ''", "labelFlush": false, "labelOverlap": false, "labelPadding": 0, "tickColor": {"condition": {"test": "datum.value % 200 === 0", "value": "#333333"}, "value": "transparent"}, "domain": false, "title": "Loss Area ( km² )", "gridWidth": {"condition": {"test": "datum.value % 200 === 0", "value": 1.6}, "value": 0.8}}},
      "y": {"field": "category", "type": "nominal", "scale": {"domain": ["FF", "SF", "SA", "SG", "aa", "Ap", "Ac", "R"], "paddingInner": 0.1, "paddingOuter": 0.15}, "axis": {"grid": true, "labels": false, "ticks": false, "domain": false, "title": null, "bandPosition": 0.5, "gridWidth": 1.6}},
      "color": {"field": "category", "type": "nominal", "scale": {"domain": ["FF", "SF", "SA", "SG", "aa", "Ap", "Ac", "R"], "range": ["#117733", "#999933", "#44AA99", "#88CCEE", "#CC6677", "#DDCC77", "#661100", "#882255"]}, "legend": {"title": "Categories", "orient": "none", "legendX": 440, "legendY": 73}}
     }},
    {"width": 165, "height": 100, "resolve": {"scale": {"y": "independent"}}, "layer": [
     {"data": {"name": "loss"}, "transform": [{"filter": "datum.period === '2002−2008'"}], "mark": {"type": "bar"},
      "encoding": {
       "x": {"field": "intensity", "type": "quantitative", "scale": {"domain": [0, 13.7], "nice": false, "zero": false}, "axis": {"values": [0, 2.5, 5, 7.5, 10, 12.5], "format": "d", "labelExpr": "datum.value % 5 === 0 && datum.value > 0 ? datum.label : ''", "labelFlush": false, "labelOverlap": false, "labelPadding": 0, "tickColor": {"condition": {"test": "datum.value % 5 === 0 && datum.value > 0", "value": "#333333"}, "value": "transparent"}, "domain": false, "title": "Loss Intensity (%)", "titleX": 126, "gridWidth": {"condition": {"test": "datum.value % 5 === 0", "value": 1.6}, "value": 0.8}}},
       "y": {"field": "category", "type": "nominal", "scale": {"domain": ["FF", "SF", "SA", "SG", "aa", "Ap", "Ac", "R"], "paddingInner": 0.1, "paddingOuter": 0.15}, "axis": {"grid": true, "labels": false, "ticks": false, "domain": false, "title": null, "bandPosition": 0.5, "gridWidth": 1.6}},
       "color": {"field": "category", "type": "nominal", "scale": {"domain": ["FF", "SF", "SA", "SG", "aa", "Ap", "Ac", "R"], "range": ["#117733", "#999933", "#44AA99", "#88CCEE", "#CC6677", "#DDCC77", "#661100", "#882255"]}, "legend": {"title": "Categories", "orient": "none", "legendX": 440, "legendY": 73}}
      }},
     {"data": {"name": "loss_st"}, "transform": [{"filter": "datum.period === '2002−2008'"}], "mark": {"type": "rule", "color": "black", "strokeWidth": 1}, "encoding": {"x": {"datum": 0, "type": "quantitative", "scale": {"domain": [0, 13.7], "nice": false, "zero": false}}}},
     {"data": {"name": "loss_st"}, "transform": [{"filter": "datum.period === '2002−2008'"}], "mark": {"type": "rule", "color": "black", "strokeWidth": 1.1}, "encoding": {"x": {"field": "uniform", "type": "quantitative", "scale": {"domain": [0, 13.7], "nice": false, "zero": false}}, "strokeDash": {"field": "type", "type": "nominal", "scale": {"domain": ["St"], "range": [[4, 4]]}, "legend": {"title": ["Uniform", "Intensity"], "orient": "none", "legendX": 440, "legendY": 410, "symbolType": "stroke", "symbolSize": 900, "symbolStrokeColor": "black", "symbolStrokeWidth": 1.2, "titlePadding": 37}}}},
     {"data": {"name": "loss_st"}, "transform": [{"filter": "datum.period === '2002−2008'"}], "mark": {"type": "rule", "color": "black", "strokeWidth": 1.8}, "encoding": {"x": {"field": "arrow_x", "type": "quantitative", "scale": {"domain": [0, 13.7], "nice": false, "zero": false}}, "x2": {"field": "arrow_x2"}, "y": {"field": "arrow_y", "type": "quantitative", "scale": {"domain": [0.4, 8.6], "reverse": true, "nice": false, "zero": false}, "axis": null}, "y2": {"field": "arrow_y2"}}},
     {"data": {"name": "loss_st"}, "transform": [{"filter": "datum.period === '2002−2008'"}], "mark": {"type": "point", "shape": "M-1,-0.7L0,0L-1,0.7", "filled": false, "color": "black", "strokeWidth": 1.8, "size": 140, "angle": 122, "opacity": 1}, "encoding": {"x": {"field": "arrow_x2", "type": "quantitative", "scale": {"domain": [0, 13.7], "nice": false, "zero": false}}, "y": {"field": "arrow_y2", "type": "quantitative", "scale": {"domain": [0.4, 8.6], "reverse": true, "nice": false, "zero": false}, "axis": null}}},
     {"data": {"name": "loss_st"}, "transform": [{"filter": "datum.period === '2002−2008'"}], "mark": {"type": "text", "align": "left", "baseline": "middle", "fontWeight": "bold", "fontSize": 15.5, "color": "black"}, "encoding": {"x": {"field": "text_x", "type": "quantitative", "scale": {"domain": [0, 13.7], "nice": false, "zero": false}}, "y": {"field": "text_y", "type": "quantitative", "scale": {"domain": [0.4, 8.6], "reverse": true, "nice": false, "zero": false}, "axis": null}, "text": {"field": "label"}}}
    ]}
   ]}
  ]}
 ]},
 {"width": 414, "height": 36, "view": {"fill": "white"}, "data": {"values": [{"letter": "(b)", "caption": "Loss area"}]}, "layer": [
  {"mark": {"type": "text", "align": "right", "dx": 27, "dy": 10, "font": "Liberation Serif", "fontSize": 22, "fontWeight": "bold", "color": "black"}, "encoding": {"text": {"field": "letter"}}},
  {"mark": {"type": "text", "align": "left", "dx": 32.5, "dy": 10, "font": "Liberation Serif", "fontSize": 22, "color": "black"}, "encoding": {"text": {"field": "caption"}}}
 ]}
]}
],
"config": {
 "font": "Liberation Sans",
 "view": {"fill": "#EBEBEB", "stroke": null},
 "axis": {"labelFont": "Liberation Sans", "titleFont": "Liberation Sans", "labelColor": "#4D4D4D", "labelFontSize": 14.5, "titleFontSize": 17.5, "titleFontWeight": "normal", "titleColor": "black", "gridColor": "white", "gridOpacity": 1, "domain": false, "tickSize": 3.5, "tickWidth": 1},
 "legend": {"titleFont": "Liberation Sans", "titleFontSize": 17.5, "titleFontWeight": "normal", "titleColor": "black", "labelFont": "Liberation Sans", "labelFontSize": 14, "labelColor": "black", "symbolSize": 1089, "symbolType": "square", "symbolStrokeColor": "#F2F2F2", "symbolStrokeWidth": 1.5, "symbolOpacity": 1, "rowPadding": -4, "labelOffset": 10, "titlePadding": 10, "titleLineHeight": 22, "padding": 0},
 "text": {"font": "Liberation Sans"}
}
}
